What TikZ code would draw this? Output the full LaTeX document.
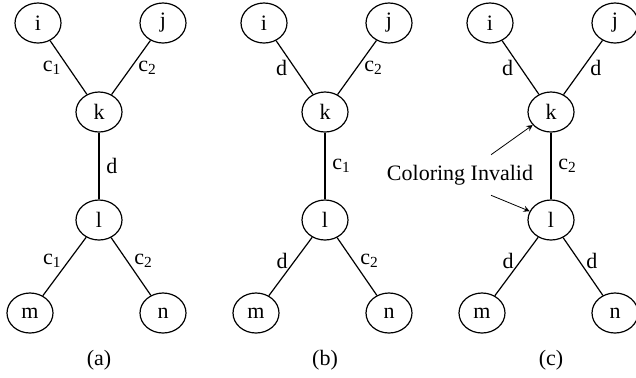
\documentclass[tikz,border=0pt]{standalone}
\usepackage{fontspec}
\setmainfont{Liberation Serif}
\usepackage{tikz}
\usetikzlibrary{shapes,arrows,positioning,calc}

\tikzset{
  vertex/.style={draw, ellipse, minimum width=23pt, minimum height=20pt, inner sep=0pt},
}

\begin{document}
\begin{tikzpicture}[x=0.5pt,y=-0.5pt,line width=0.6pt,>=stealth,font=\fontsize{11}{13}\selectfont]
\useasboundingbox (0,0) rectangle (636,377);

% Graph (a)
\node (ia) [vertex] at (38,23) {i};
\node (ja) [vertex] at (163,23) {j};
\node (ka) [vertex] at (99,112) {k};
\node (la) [vertex] at (99,220) {l};
\node (ma) [vertex] at (30,313) {m};
\node (na) [vertex] at (163,313) {n};
\draw (ia) -- node[left] {c\textsubscript{1}} (ka);
\draw (ja) -- node[right] {c\textsubscript{2}} (ka);
\draw (ka) -- node[right] {d} (la);
\draw (la) -- node[pos=0.4,left] {c\textsubscript{1}} (ma);
\draw (la) -- node[pos=0.4,right] {c\textsubscript{2}} (na);
\node (capa) at (99,360) {(a)};

% Graph (b)
\node (ib) [vertex] at (264,23) {i};
\node (jb) [vertex] at (389,23) {j};
\node (kb) [vertex] at (325,112) {k};
\node (lb) [vertex] at (325,220) {l};
\node (mb) [vertex] at (256,313) {m};
\node (nb) [vertex] at (389,313) {n};
\draw (ib) -- node[left] {d} (kb);
\draw (jb) -- node[right] {c\textsubscript{2}} (kb);
\draw (kb) -- node[right] {c\textsubscript{1}} (lb);
\draw (lb) -- node[pos=0.4,left] {d} (mb);
\draw (lb) -- node[pos=0.4,right] {c\textsubscript{2}} (nb);
\node (capb) at (325,360) {(b)};

% Graph (c)
\node (ic) [vertex] at (490,23) {i};
\node (jc) [vertex] at (615,23) {j};
\node (kc) [vertex] at (551,112) {k};
\node (lc) [vertex] at (551,220) {l};
\node (mc) [vertex] at (482,313) {m};
\node (nc) [vertex] at (615,313) {n};
\draw (ic) -- node[left] {d} (kc);
\draw (jc) -- node[right] {d} (kc);
\draw (kc) -- node[right] {c\textsubscript{2}} (lc);
\draw (lc) -- node[pos=0.4,left] {d} (mc);
\draw (lc) -- node[pos=0.4,right] {d} (nc);
\node (capc) at (551,360) {(c)};

% Invalid coloring
\node (cinv) at (460,175) {Coloring Invalid};
\draw[->,line width=0.4pt] ($(cinv.north)+(31,-3)$) -- (kc);
\draw[->,line width=0.4pt] ($(cinv.south)+(31,3)$) -- (lc);

\end{tikzpicture}
\end{document}
